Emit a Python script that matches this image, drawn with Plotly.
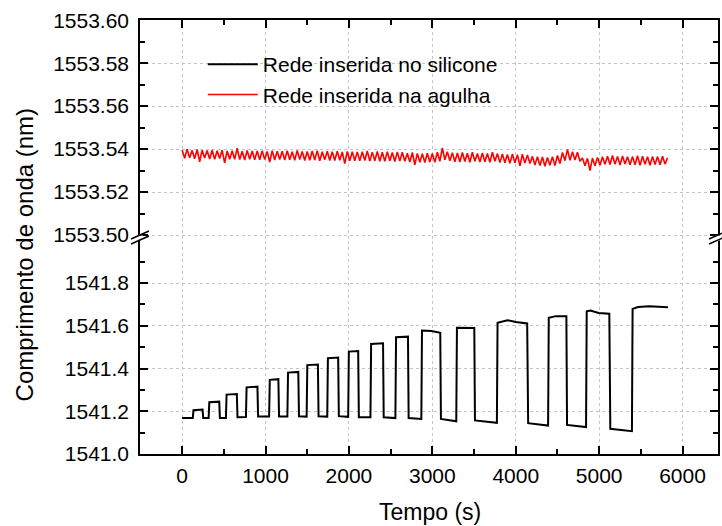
import plotly.graph_objects as go

# ---------------- data ----------------
# Rede inserida no silicone (black, lower panel)
black_t = [0, 128, 136, 245, 253, 318, 326, 445, 453, 525, 533, 656, 664, 765, 773,
           903, 911, 1043, 1051, 1154, 1162, 1262, 1270, 1393, 1401, 1493, 1501, 1628,
           1636, 1740, 1748, 1871, 1879, 1991, 1999, 2111, 2119, 2258, 2266, 2409, 2417,
           2557, 2565, 2708, 2716, 2868, 2876, 2990, 3095, 3103, 3287, 3295, 3503, 3511,
           3774, 3782, 3900, 4000, 4137, 4149, 4388, 4396, 4480, 4607, 4615, 4843, 4851,
           4895, 4994, 5122, 5134, 5393, 5401, 5466, 5600, 5825]
black_wl = [1541.168, 1541.168, 1541.205, 1541.208, 1541.168, 1541.168, 1541.242, 1541.245,
            1541.168, 1541.168, 1541.278, 1541.281, 1541.172, 1541.173, 1541.312, 1541.315,
            1541.175, 1541.175, 1541.347, 1541.350, 1541.175, 1541.175, 1541.381, 1541.384,
            1541.176, 1541.175, 1541.416, 1541.419, 1541.176, 1541.175, 1541.448, 1541.451,
            1541.177, 1541.174, 1541.479, 1541.482, 1541.172, 1541.172, 1541.515, 1541.518,
            1541.172, 1541.168, 1541.546, 1541.549, 1541.168, 1541.164, 1541.578, 1541.575,
            1541.567, 1541.164, 1541.153, 1541.591, 1541.590, 1541.157, 1541.146, 1541.614,
            1541.626, 1541.618, 1541.611, 1541.144, 1541.133, 1541.637, 1541.645, 1541.645,
            1541.136, 1541.126, 1541.668, 1541.671, 1541.660, 1541.656, 1541.118, 1541.107,
            1541.679, 1541.688, 1541.691, 1541.687]

# Rede inserida na agulha (red, upper panel)
red_t = [0, 30, 60, 90, 120, 150, 180, 210, 240, 270,
         300, 330, 360, 390, 420, 450, 480, 510, 540, 570,
         600, 630, 660, 690, 720, 750, 780, 810, 840, 870,
         900, 930, 960, 990, 1020, 1050, 1080, 1110, 1140, 1170,
         1200, 1230, 1260, 1290, 1320, 1350, 1380, 1410, 1440, 1470,
         1500, 1530, 1560, 1590, 1620, 1650, 1680, 1710, 1740, 1770,
         1800, 1830, 1860, 1890, 1920, 1950, 1980, 2010, 2040, 2070,
         2100, 2130, 2160, 2190, 2220, 2250, 2280, 2310, 2340, 2370,
         2400, 2430, 2460, 2490, 2520, 2550, 2580, 2610, 2640, 2670,
         2700, 2730, 2760, 2790, 2820, 2850, 2880, 2910, 2940, 2970,
         3000, 3030, 3060, 3090, 3120, 3150, 3180, 3210, 3240, 3270,
         3300, 3330, 3360, 3390, 3420, 3450, 3480, 3510, 3540, 3570,
         3600, 3630, 3660, 3690, 3720, 3750, 3780, 3810, 3840, 3870,
         3900, 3930, 3960, 3990, 4020, 4050, 4080, 4110, 4140, 4170,
         4200, 4230, 4260, 4290, 4320, 4350, 4380, 4410, 4440, 4470,
         4500, 4530, 4560, 4590, 4620, 4650, 4680, 4710, 4740, 4770,
         4800, 4830, 4860, 4890, 4920, 4950, 4980, 5010, 5040, 5070,
         5100, 5130, 5160, 5190, 5220, 5250, 5280, 5310, 5340, 5370,
         5400, 5430, 5460, 5490, 5520, 5550, 5580, 5610, 5640, 5670,
         5700, 5730, 5760, 5790, 5820]
red_wl = [1553.5396, 1553.5357, 1553.5399, 1553.5360, 1553.5394, 1553.5355, 1553.5398, 1553.5341, 1553.5395, 1553.5358,
          1553.5393, 1553.5354, 1553.5396, 1553.5352, 1553.5392, 1553.5356, 1553.5395, 1553.5336, 1553.5391, 1553.5353,
          1553.5392, 1553.5352, 1553.5404, 1553.5351, 1553.5390, 1553.5349, 1553.5394, 1553.5353, 1553.5391, 1553.5350,
          1553.5391, 1553.5350, 1553.5393, 1553.5351, 1553.5389, 1553.5340, 1553.5393, 1553.5349, 1553.5390, 1553.5352,
          1553.5390, 1553.5349, 1553.5392, 1553.5350, 1553.5388, 1553.5348, 1553.5394, 1553.5351, 1553.5389, 1553.5347,
          1553.5389, 1553.5348, 1553.5391, 1553.5349, 1553.5393, 1553.5346, 1553.5388, 1553.5350, 1553.5390, 1553.5347,
          1553.5388, 1553.5347, 1553.5390, 1553.5348, 1553.5387, 1553.5332, 1553.5389, 1553.5346, 1553.5388, 1553.5346,
          1553.5387, 1553.5345, 1553.5388, 1553.5347, 1553.5391, 1553.5344, 1553.5386, 1553.5346, 1553.5389, 1553.5343,
          1553.5385, 1553.5343, 1553.5388, 1553.5345, 1553.5384, 1553.5342, 1553.5387, 1553.5344, 1553.5385, 1553.5343,
          1553.5381, 1553.5340, 1553.5384, 1553.5327, 1553.5380, 1553.5339, 1553.5379, 1553.5337, 1553.5381, 1553.5340,
          1553.5380, 1553.5339, 1553.5386, 1553.5343, 1553.5405, 1553.5350, 1553.5388, 1553.5346, 1553.5383, 1553.5341,
          1553.5382, 1553.5340, 1553.5384, 1553.5342, 1553.5381, 1553.5339, 1553.5385, 1553.5343, 1553.5380, 1553.5340,
          1553.5382, 1553.5341, 1553.5380, 1553.5338, 1553.5385, 1553.5343, 1553.5379, 1553.5337, 1553.5377, 1553.5336,
          1553.5375, 1553.5334, 1553.5377, 1553.5336, 1553.5374, 1553.5322, 1553.5376, 1553.5335, 1553.5373, 1553.5333,
          1553.5366, 1553.5326, 1553.5364, 1553.5324, 1553.5363, 1553.5320, 1553.5361, 1553.5325, 1553.5364, 1553.5323,
          1553.5370, 1553.5333, 1553.5384, 1553.5346, 1553.5399, 1553.5348, 1553.5388, 1553.5349, 1553.5385, 1553.5343,
          1553.5359, 1553.5322, 1553.5357, 1553.5300, 1553.5358, 1553.5322, 1553.5361, 1553.5325, 1553.5364, 1553.5329,
          1553.5367, 1553.5328, 1553.5370, 1553.5330, 1553.5366, 1553.5326, 1553.5368, 1553.5331, 1553.5364, 1553.5327,
          1553.5366, 1553.5327, 1553.5369, 1553.5324, 1553.5367, 1553.5329, 1553.5364, 1553.5325, 1553.5366, 1553.5328,
          1553.5365, 1553.5327, 1553.5367, 1553.5330, 1553.5360]

series_names = ["Rede inserida no silicone", "Rede inserida na agulha"]
x_title = "Tempo (s)"
y_title = "Comprimento de onda (nm)"

# ---------------- layout geometry (pixels) ----------------
W, H = 722, 526
L, R, T, B = 140, 2, 20, 72
PW, PH = W - L - R, H - T - B
split_py = 240.7
split = (H - B - split_py) / PH
X_RANGE = [-505, 6425]
Y_TOP_RANGE = [1553.49735, 1553.6001]
Y_BOT_RANGE = [1541.0, 1541.998]


def px(xp):
    return (xp - L) / PW


def py(yp):
    return (H - B - yp) / PH


FONT = "Liberation Sans"
GRID = "#c4c4c4"

fig = go.Figure()
fig.add_trace(go.Scatter(x=black_t, y=black_wl, mode="lines", name=series_names[0],
                         line=dict(color="black", width=2), xaxis="x", yaxis="y"))
fig.add_trace(go.Scatter(x=red_t, y=red_wl, mode="lines", name=series_names[1],
                         line=dict(color="#ff0000", width=1.6), xaxis="x2", yaxis="y2"))


def x_axis(**kw):
    d = dict(range=X_RANGE, tickmode="linear", tick0=0, dtick=1000,
             ticks="inside", ticklen=8, tickwidth=1.5, tickcolor="black",
             showline=True, linecolor="black", linewidth=1.5,
             showgrid=True, gridcolor=GRID, griddash="dot", gridwidth=1,
             zeroline=False,
             minor=dict(dtick=500, tick0=0, ticks="inside", ticklen=5,
                        tickwidth=1.5, tickcolor="black", showgrid=False))
    d.update(kw)
    return d


fig.update_layout(
    width=W, height=H,
    margin=dict(l=L, r=R, t=T, b=B),
    paper_bgcolor="white", plot_bgcolor="white",
    font=dict(family=FONT, size=21, color="black"),
    showlegend=True,
    legend=dict(x=px(203), y=py(44), xanchor="left", yanchor="top",
                bgcolor="rgba(0,0,0,0)", borderwidth=0,
                font=dict(family=FONT, size=21), itemwidth=50,
                tracegroupgap=0),
    xaxis=x_axis(domain=[0, 1], anchor="y", showticklabels=True,
                 ticklabelstandoff=2),
    xaxis2=x_axis(domain=[0, 1], anchor="y2", side="top", showticklabels=False),
    yaxis=dict(domain=[0, split], anchor="x", range=Y_BOT_RANGE,
               tickmode="linear", tick0=1541.0, dtick=0.2, tickformat=".1f",
               ticks="inside", ticklen=8, tickwidth=1.5, tickcolor="black",
               showline=True, linecolor="black", linewidth=1.5, mirror="allticks",
               showgrid=True, gridcolor=GRID, griddash="dot", gridwidth=1,
               zeroline=False, ticklabelstandoff=5,
               minor=dict(dtick=0.1, tick0=1541.0, ticks="inside", ticklen=5,
                          tickwidth=1.5, tickcolor="black", showgrid=False)),
    yaxis2=dict(domain=[split, 1], anchor="x2", range=Y_TOP_RANGE,
                tickmode="linear", tick0=1553.50, dtick=0.02, tickformat=".2f",
                ticks="inside", ticklen=8, tickwidth=1.5, tickcolor="black",
                showline=True, linecolor="black", linewidth=1.5, mirror="allticks",
                showgrid=True, gridcolor=GRID, griddash="dot", gridwidth=1,
                zeroline=False, ticklabelstandoff=5,
                minor=dict(dtick=0.01, tick0=1553.50, ticks="inside", ticklen=5,
                           tickwidth=1.5, tickcolor="black", showgrid=False)),
)

# axis titles
fig.add_annotation(text=y_title, xref="paper", yref="paper", x=px(25), y=py(255),
                   xanchor="center", yanchor="middle", textangle=-90, showarrow=False,
                   font=dict(family=FONT, size=24))
fig.add_annotation(text=x_title, xref="paper", yref="paper", x=px(431), y=py(512),
                   xanchor="center", yanchor="middle", showarrow=False,
                   font=dict(family=FONT, size=23))

shapes = []
# hide the grid line on the 1553.50 tick (it sits at the axis break)
shapes.append(dict(type="line", xref="paper", yref="y2", x0=0, x1=1,
                   y0=Y_TOP_RANGE[0] + 0.00265, y1=Y_TOP_RANGE[0] + 0.00265,
                   line=dict(color="white", width=3), layer="between"))
# axis break marks
for cx in (140, 720):
    shapes.append(dict(type="rect", xref="paper", yref="paper",
                       x0=px(cx - 3), x1=px(cx + 3), y0=py(235.5), y1=py(240.5),
                       fillcolor="white", line=dict(width=0), layer="above"))
    for dy in (0, 5):
        shapes.append(dict(type="line", xref="paper", yref="paper",
                           x0=px(cx - 9), y0=py(239 + dy), x1=px(cx + 9), y1=py(231 + dy),
                           line=dict(color="black", width=1.5), layer="above"))
fig.update_layout(shapes=shapes)

fig.write_html("out.html")
